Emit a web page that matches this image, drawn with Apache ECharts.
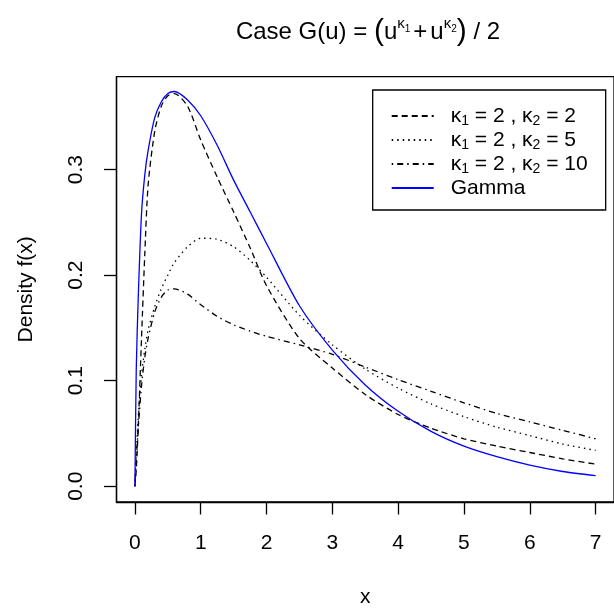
<!DOCTYPE html>
<html>
<head>
<meta charset="utf-8">
<script src="https://cdn.jsdelivr.net/npm/echarts@6/dist/echarts.min.js"></script>
<style>html,body{margin:0;padding:0;background:#fff}#c{width:614px;height:613px}</style>
</head>
<body>
<div id="c"></div>
<script>
var xs = [0, 0.02, 0.05, 0.1, 0.15, 0.2, 0.3, 0.4, 0.5, 0.6, 0.8, 1.0, 1.25, 1.5, 1.75, 2, 2.5, 3, 3.5, 4, 4.5, 5, 5.5, 6, 6.5, 7];
var k22 = [0, 0.015, 0.055, 0.14, 0.22, 0.285, 0.336, 0.36, 0.37, 0.372, 0.36, 0.328, 0.293, 0.26, 0.226, 0.19, 0.14, 0.112, 0.087, 0.068, 0.055, 0.045, 0.038, 0.032, 0.026, 0.021];
var k25 = [0, 0.03, 0.065, 0.105, 0.13, 0.148, 0.17, 0.187, 0.2, 0.212, 0.227, 0.235, 0.234, 0.227, 0.214, 0.198, 0.162, 0.134, 0.111, 0.093, 0.078, 0.066, 0.056, 0.048, 0.040, 0.034];
var k210 = [0, 0.025, 0.055, 0.095, 0.122, 0.14, 0.165, 0.179, 0.186, 0.187, 0.182, 0.172, 0.161, 0.153, 0.147, 0.142, 0.134, 0.125, 0.113, 0.101, 0.090, 0.079, 0.069, 0.061, 0.053, 0.045];
var gam = [0, 0.11, 0.178, 0.258, 0.295, 0.318, 0.349, 0.364, 0.372, 0.374, 0.366, 0.351, 0.323, 0.29, 0.26, 0.23, 0.171, 0.129, 0.096, 0.071, 0.052, 0.038, 0.028, 0.020, 0.014, 0.010];
var seriesNames = ['κ1 = 2 , κ2 = 2', 'κ1 = 2 , κ2 = 5', 'κ1 = 2 , κ2 = 10', 'Gamma'];
var xTicks = [0, 1, 2, 3, 4, 5, 6, 7];
var yTicks = [0, 0.1, 0.2, 0.3];

var FONT = 'Liberation Sans, Arial, Helvetica, sans-serif';
function pairs(ys) { return xs.map(function (x, i) { return [x, ys[i]]; }); }
var styles = [
  {color: '#000', type: [6, 4]},
  {color: '#000', type: [1.5, 4]},
  {color: '#000', type: [1.5, 4, 6, 4]},
  {color: '#0000ff', type: 'solid'}
];
var vals = [k22, k25, k210, gam];
var series = vals.map(function (v, i) {
  return {
    name: seriesNames[i], type: 'line', data: pairs(v), symbol: 'none',
    smooth: 0.25, clip: true,
    lineStyle: {color: styles[i].color, width: 1.3, type: styles[i].type},
    itemStyle: {color: styles[i].color}
  };
});

var chart = echarts.init(document.getElementById('c'), null, {renderer: 'canvas'});
chart.setOption({
  animation: false,
  backgroundColor: '#fff',
  textStyle: {fontFamily: FONT},
  title: {
    text: 'Case G(u) = {bp|(}u{sup|κ}{ss|1}{pl|+}u{sup|κ}{ss|2}{bp|)} / 2',
    left: 363, top: 11, textAlign: 'center',
    textStyle: {
      fontFamily: FONT, fontWeight: 'normal', fontSize: 24, color: '#000', lineHeight: 32,
      rich: {
        bp: {fontFamily: FONT, fontSize: 30, lineHeight: 32, color: '#000'},
        pl: {fontFamily: FONT, fontSize: 24, lineHeight: 32, color: '#000', padding: [0, 3, 0, 3]},
        sup: {fontFamily: FONT, fontSize: 15, lineHeight: 15, verticalAlign: 'top', color: '#000'},
        ss: {fontFamily: FONT, fontSize: 10, lineHeight: 10, verticalAlign: 'top', padding: [8, 0, 0, 0], color: '#000'}
      }
    }
  },
  legend: {
    orient: 'vertical', left: 372.7, top: 90,
    data: seriesNames,
    borderColor: '#000', borderWidth: 1.3, borderRadius: 0,
    padding: [14, 18, 10, 18], itemGap: 0, itemWidth: 42, itemHeight: 24,
    selectedMode: false,
    itemStyle: {opacity: 0},
    formatter: function (n) { return n.replace('κ1', '{k|κ}{s|1}').replace('κ2', '{k|κ}{s|2}'); },
    textStyle: {
      fontFamily: FONT, fontSize: 21, color: '#000', lineHeight: 24, padding: [0, 0, 0, 12],
      rich: {
        k: {fontFamily: FONT, fontSize: 21, lineHeight: 24, color: '#000'},
        s: {fontFamily: FONT, fontSize: 14, lineHeight: 14, verticalAlign: 'bottom', color: '#000'}
      }
    }
  },
  grid: {left: 116.5, top: 76.7, width: 506.5, height: 426, show: true, borderColor: '#000', borderWidth: 1.3, backgroundColor: 'transparent'},
  xAxis: {
    type: 'value', min: -0.28, max: 7.28,
    name: 'x', nameLocation: 'middle', nameGap: 85,
    nameTextStyle: {fontFamily: FONT, fontSize: 21, color: '#000'},
    axisLine: {show: true, onZero: false, lineStyle: {color: '#000', width: 1.3}},
    axisTick: {show: true, inside: false, length: 12.5, customValues: xTicks, lineStyle: {color: '#000', width: 1.3}},
    axisLabel: {show: true, margin: 31, customValues: xTicks, fontFamily: FONT, fontSize: 21, color: '#000'},
    splitLine: {show: false}
  },
  yAxis: {
    type: 'value', min: -0.0149, max: 0.388,
    name: 'Density f(x)', nameLocation: 'middle', nameGap: 80, nameRotate: 90,
    nameTextStyle: {fontFamily: FONT, fontSize: 21, color: '#000'},
    axisLine: {show: true, onZero: false, lineStyle: {color: '#000', width: 1.3}},
    axisTick: {show: true, inside: false, length: 12.5, customValues: yTicks, lineStyle: {color: '#000', width: 1.3}},
    axisLabel: {show: true, margin: 30, rotate: 90, customValues: yTicks, fontFamily: FONT, fontSize: 21, color: '#000',
      formatter: function (v) { return v.toFixed(1); }},
    splitLine: {show: false}
  },
  series: series
});
</script>
</body>
</html>
